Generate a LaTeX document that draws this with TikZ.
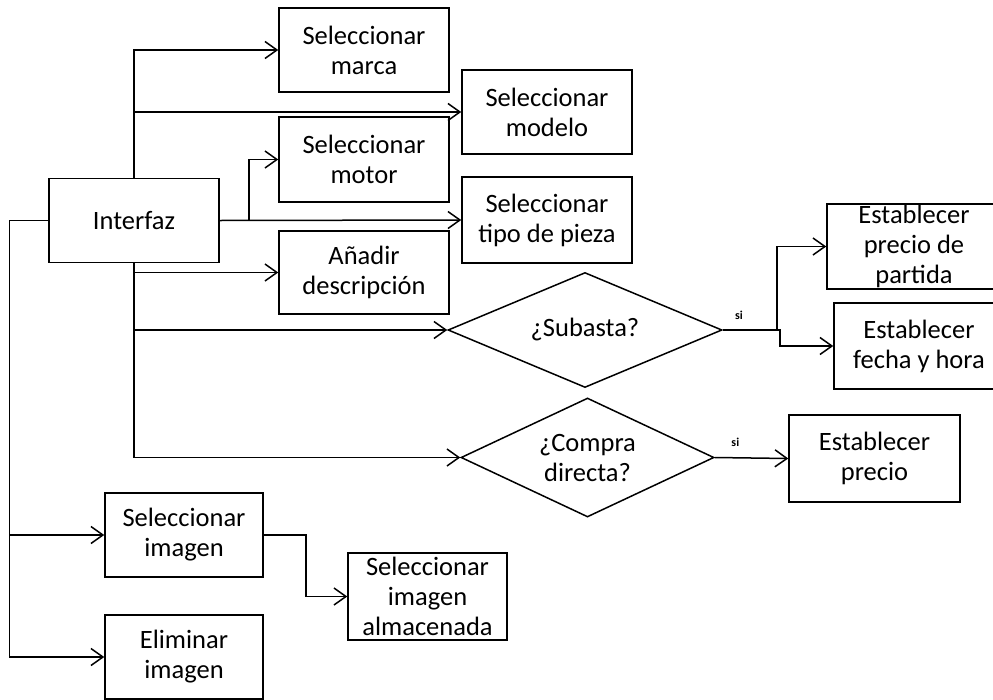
\documentclass[tikz,border=0pt]{standalone}
\usepackage{fontspec}
\setmainfont{Carlito}
\usetikzlibrary{arrows.meta,shapes.geometric,calc}
\tikzset{
  box/.style={draw, rectangle, line width=1.5pt, inner sep=0pt, align=center,
    minimum width=170pt, minimum height=84pt,
    font=\fontsize{26.5}{30}\selectfont},
  decision/.style={draw, diamond, line width=1.5pt, inner sep=0pt, align=center,
    shape aspect=2.3, font=\fontsize{26.5}{30}\selectfont},
  arr/.style={line width=1.5pt, -{Straight Barb[length=12pt,width=17pt,line width=1.5pt]}},
  silabel/.style={font=\bfseries\fontsize{12}{13}\selectfont, inner sep=2pt, above, yshift=8pt}
}
\begin{document}
\begin{tikzpicture}[x=1pt,y=-1pt]
\useasboundingbox[fill=white] (0,0) rectangle (993,699);
% nodes
\node[box] (inter) at (134,220.5) {Interfaz};
\node[box] (marca) at (364,50) {Seleccionar\\marca};
\node[box] (modelo) at (547,112) {Seleccionar\\modelo};
\node[box, minimum height=85pt] (motor) at (364,159.5) {Seleccionar\\motor};
\node[box, minimum height=86pt] (tipo) at (547,220) {Seleccionar\\tipo de pieza};
\node[box, minimum height=83pt] (anadir) at (364,272.5) {Añadir\\descripción};
\node[decision, minimum width=274pt, minimum height=115pt] (sub) at (585,330) {¿Subasta?};
\node[decision, minimum width=253pt, minimum height=119pt] (comp) at (587.5,457.5) {¿Compra\\directa?};
\node[box, minimum width=174pt, minimum height=85pt] (part) at (914,246.5) {Establecer\\precio de\\partida};
\node[box, minimum width=170pt, minimum height=86pt] (fecha) at (919,346) {Establecer\\fecha y hora};
\node[box, minimum width=171pt, minimum height=87pt] (precio) at (874.5,458.5) {Establecer\\precio};
\node[box, minimum width=158pt] (selimg) at (184,535) {Seleccionar\\imagen};
\node[box, minimum width=158pt] (elim) at (184,657) {Eliminar\\imagen};
\node[box, minimum width=159pt, minimum height=87pt] (alm) at (427.5,596.5) {Seleccionar\\imagen\\almacenada};
% connectors
\draw[arr] (inter.north) |- (marca.west);
\draw[arr] (inter.north) |- (modelo.west);
\draw[arr] (inter.east) -- ++(29,0) |- (motor.west);
\draw[arr] (inter.east) -- (tipo.west);
\draw[arr] (inter.south) |- (anadir.west);
\draw[arr] (inter.south) |- (sub.west);
\draw[arr] (inter.south) |- (comp.west);
\draw[arr] (inter.west) -- ++(-39,0) |- (selimg.west);
\draw[arr] (inter.west) -- ++(-39,0) |- (elim.west);
\draw[arr] (selimg.east) -- ++(42,0) |- (alm.west);
\draw[arr] (sub.east) -- ++(54,0) node[silabel, pos=0.3] {si} |- (part.west);
\draw[arr] (sub.east) -- ++(57,0) |- (fecha.west);
\draw[arr] (comp.east) -- node[silabel, pos=0.28] {si} (precio.west);
\end{tikzpicture}
\end{document}
